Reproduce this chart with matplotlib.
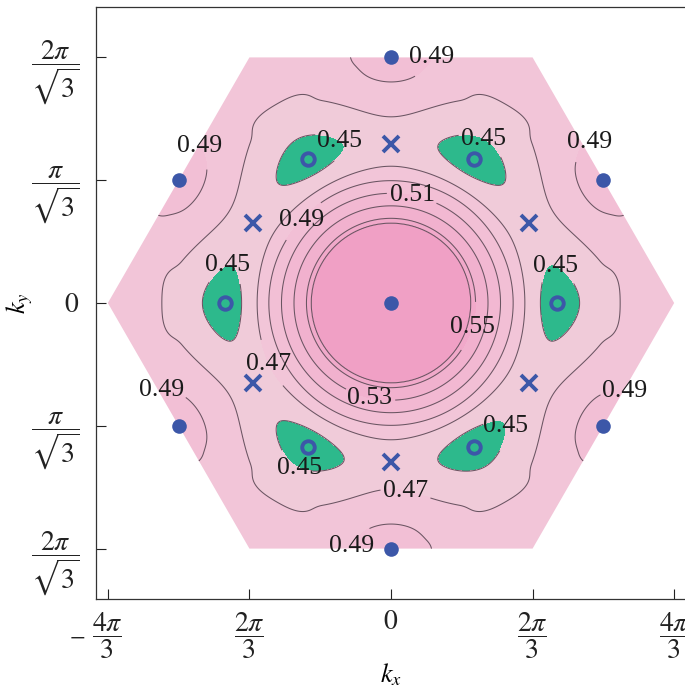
import numpy as np
import matplotlib
matplotlib.use("Agg")
import matplotlib.pyplot as plt
from matplotlib.patches import Polygon
from matplotlib.transforms import ScaledTranslation

plt.rcParams['font.family'] = ['Liberation Serif', 'DejaVu Serif']
plt.rcParams['mathtext.fontset'] = 'stix'

PI = np.pi
S3 = np.sqrt(3.0)

# ---------------- data ----------------
levels = [0.45, 0.47, 0.49, 0.51, 0.53, 0.55, 0.57]

# radial profile along Gamma-K (theta = 0): radius (k units) vs value
r_gk = [0.0, 0.85, 1.18, 1.25, 1.435, 1.620, 1.807, 1.980, 2.210, 2.470, 2.790, 3.390, 4.180, 4.600]
v_gk = [0.580, 0.5795, 0.570, 0.550, 0.530, 0.510, 0.490, 0.470, 0.450, 0.443, 0.450, 0.470, 0.482, 0.482]
# radial profile along Gamma-M (theta = 30 deg)
r_gm = [0.0, 0.85, 1.18, 1.25, 1.435, 1.620, 1.807, 2.020, 2.365, 2.750, 3.265, 3.627, 3.990, 4.600]
v_gm = [0.580, 0.5795, 0.570, 0.550, 0.530, 0.510, 0.490, 0.470, 0.459, 0.470, 0.490, 0.500, 0.490, 0.470]
# angular sharpness of the M-point bumps vs radius
p_r = [0.0, 3.15, 3.55, 4.60]
p_v = [1.0, 1.0, 2.1, 2.1]

# marked points
dot_kx = [0.0, 0.0, 0.0, PI, PI, -PI, -PI]
dot_ky = [0.0, 2 * PI / S3, -2 * PI / S3, PI / S3, -PI / S3, PI / S3, -PI / S3]
ring_kx = [2.46, 1.23, -1.23, -2.46, -1.23, 1.23]
ring_ky = [0.0, 2.13, 2.13, 0.0, -2.13, -2.13]
cross_kx = [2.035, 0.0, -2.035, -2.035, 0.0, 2.035]
cross_ky = [1.175, 2.35, 1.175, -1.175, -2.35, -1.175]

# contour label positions: (level, kx, ky)
label_pos = [
    (0.49, 0.66, 3.62), (0.49, 2.94, 2.33), (0.49, -2.83, 2.33),
    (0.49, -3.39, -1.31), (0.49, 3.46, -1.31), (0.49, -0.56, -3.60),
    (0.45, -0.77, 2.38), (0.45, 1.38, 2.45), (0.45, 2.43, 0.53),
    (0.45, -2.43, 0.61), (0.45, -1.35, -2.44), (0.45, 1.69, -1.82),
    (0.49, -1.32, 1.23), (0.51, 0.31, 1.57), (0.53, -0.31, -1.39),
    (0.55, 1.20, -0.355), (0.47, -1.86, -0.93), (0.47, 0.237, -2.70),
]

xticks = [-4 * PI / 3, -2 * PI / 3, 0, 2 * PI / 3, 4 * PI / 3]
xticklabels = [r'$\dfrac{4\pi}{3}$', r'$\dfrac{2\pi}{3}$', r'$0$',
               r'$\dfrac{2\pi}{3}$', r'$\dfrac{4\pi}{3}$']
yticks = [-2 * PI / S3, -PI / S3, 0, PI / S3, 2 * PI / S3]
yticklabels = [r'$\dfrac{2\pi}{\sqrt{3}}$', r'$\dfrac{\pi}{\sqrt{3}}$', r'$0$',
               r'$\dfrac{\pi}{\sqrt{3}}$', r'$\dfrac{2\pi}{\sqrt{3}}$']

fill_colors = ['#2db98c', '#f0cbd9', '#f2c5d8', '#f2bfd5', '#f2b8d2',
               '#f1b1ce', '#f1a9ca', '#f0a0c5']


def pchip(xk, yk, x):
    xk = np.asarray(xk, float)
    yk = np.asarray(yk, float)
    h = np.diff(xk)
    delta = np.diff(yk) / h
    n = len(xk)
    d = np.zeros(n)
    for k in range(1, n - 1):
        if delta[k - 1] * delta[k] > 0:
            w1 = 2 * h[k] + h[k - 1]
            w2 = h[k] + 2 * h[k - 1]
            d[k] = (w1 + w2) / (w1 / delta[k - 1] + w2 / delta[k])
    x = np.clip(x, xk[0], xk[-1])
    idx = np.clip(np.searchsorted(xk, x) - 1, 0, n - 2)
    t = (x - xk[idx]) / h[idx]
    h00 = 2 * t**3 - 3 * t**2 + 1
    h10 = t**3 - 2 * t**2 + t
    h01 = -2 * t**3 + 3 * t**2
    h11 = t**3 - t**2
    return (h00 * yk[idx] + h10 * h[idx] * d[idx]
            + h01 * yk[idx + 1] + h11 * h[idx] * d[idx + 1])


# ---------------- field ----------------
kx = np.linspace(-4.6, 4.6, 700)
ky = np.linspace(-4.6, 4.6, 700)
KX, KY = np.meshgrid(kx, ky)
R = np.hypot(KX, KY)
TH = np.arctan2(KY, KX)
g0 = pchip(r_gk, v_gk, R)
g30 = pchip(r_gm, v_gm, R)
W = ((1.0 - np.cos(6 * TH)) / 2.0) ** pchip(p_r, p_v, R)
F = g0 + (g30 - g0) * W

# ---------------- figure ----------------
fig = plt.figure(figsize=(6.85, 6.95), dpi=100)
ax = fig.add_axes([96 / 685, 96 / 695, 590 / 685, 592 / 695])
ax.set_xlim(-4.364, 4.364)
ax.set_ylim(-4.372, 4.372)

hexv = [(4 * PI / 3, 0), (2 * PI / 3, 2 * PI / S3), (-2 * PI / 3, 2 * PI / S3),
        (-4 * PI / 3, 0), (-2 * PI / 3, -2 * PI / S3), (2 * PI / 3, -2 * PI / S3)]
hexpatch = Polygon(hexv, closed=True, facecolor='none', edgecolor='none',
                   transform=ax.transData)
ax.add_patch(hexpatch)

cf = ax.contourf(KX, KY, F, levels=[0.30] + levels + [0.70], colors=fill_colors)
cf.set_clip_path(hexpatch)

for lev in levels:
    cl = ax.contour(KX, KY, F, levels=[lev], colors='#6a5562', linewidths=0.75)
    cl.set_clip_path(hexpatch)
    pts = [(p[1], p[2]) for p in label_pos if p[0] == lev]
    if pts:
        txts = ax.clabel(cl, manual=pts, inline=True, inline_spacing=3,
                         fmt='%.2f', fontsize=18.5, colors='#1a1a1a')
        for t in txts:
            t.set_rotation(0)

mk = '#3c57a8'
ax.plot(dot_kx, dot_ky, 'o', ms=10.5, mfc=mk, mec=mk, mew=0, zorder=5)
ax.plot(ring_kx, ring_ky, 'o', ms=9.0, mfc='none', mec=mk, mew=2.8, zorder=5)
ax.plot(cross_kx, cross_ky, 'x', ms=12, mec=mk, mew=2.8, zorder=5)

ax.set_xticks(xticks)
ax.set_xticklabels(xticklabels)
ax.set_yticks(yticks)
ax.set_yticklabels(yticklabels)
ax.tick_params(direction='in', length=7, width=0.8, labelsize=20, colors='#222222')
ax.tick_params(axis='x', pad=8)
ax.tick_params(axis='y', pad=12)
for s in ['left', 'bottom', 'top']:
    ax.spines[s].set_linewidth(0.9)
    ax.spines[s].set_color('#333333')
ax.spines['right'].set_visible(False)

# fraction labels on the ky axis sit slightly above their ticks
shift_up = ScaledTranslation(0, 4 / 100, fig.dpi_scale_trans)
for lab in ax.get_yticklabels():
    if 'frac' in lab.get_text():
        lab.set_transform(lab.get_transform() + shift_up)

# minus sign of the leftmost kx tick label, left of the fraction
fig.text(77 / 685, 1 - 640 / 695, '\u2212', ha='center', va='center',
         fontsize=20, color='#222222')

ax.set_xlabel(r'$k_x$', fontsize=19)
ax.set_ylabel(r'$k_y$', fontsize=19)
ax.xaxis.set_label_coords(0.5, -0.105)
ax.yaxis.set_label_coords(-0.104, 0.5)

fig.savefig('out.png', dpi=100)
